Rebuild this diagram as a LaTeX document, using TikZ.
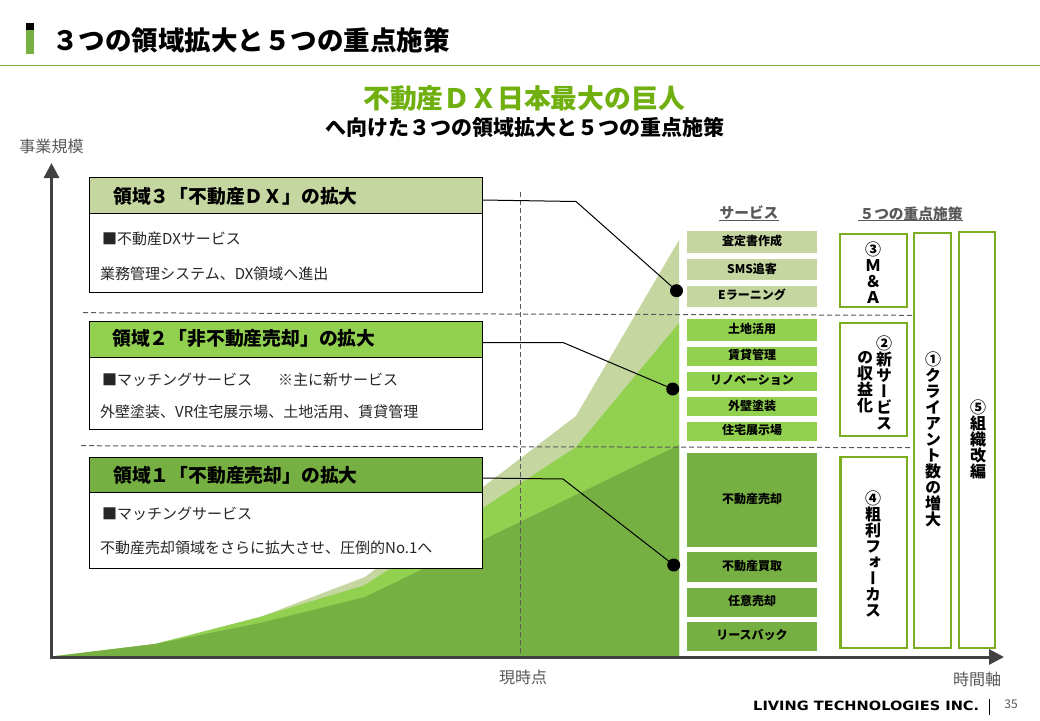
\documentclass[tikz,border=0pt]{standalone}
\usepackage{graphicx}
\usepackage{fontspec}
\setmainfont{Noto Sans CJK JP}
\newfontfamily\vjp[RawFeature=+vert]{Noto Sans CJK JP}
\newfontfamily\logofont{DejaVu Sans}
\usetikzlibrary{arrows.meta}
\definecolor{gLight}{HTML}{C5D6A0}
\definecolor{gMid}{HTML}{92D050}
\definecolor{gDark}{HTML}{76AF42}
\definecolor{gLine}{HTML}{7AAE1E}
\definecolor{gHead}{HTML}{6FAF0E}
\definecolor{gRule}{HTML}{76AF42}
\definecolor{axisc}{HTML}{404040}
\definecolor{graytx}{HTML}{595959}
\definecolor{dashc}{HTML}{595959}
\newcommand{\fsz}[1]{\fontsize{#1}{#1}\selectfont}
\newcommand{\bx}[7]{\pgfmathsetmacro\bw{#4-#2}\pgfmathsetmacro\bh{#5-#3}\node[#6,anchor=north west,minimum width=\bw pt,minimum height=\bh pt,inner sep=0pt,outer sep=0pt] (#1) at (#2,#3) {#7};}
\tikzset{
 x=1pt,y=-1pt,
 svc/.style={font=\fsz{12}\bfseries,text=black,text height=9.5pt,text depth=2.5pt},
 svclight/.style={svc,fill=gLight},
 svcmid/.style={svc,fill=gMid},
 svcdark/.style={svc,fill=gDark},
 panel/.style={draw=black,line width=1pt,fill=white},
 headtx/.style={font=\fsz{18.8}\bfseries,anchor=west,inner sep=0pt,text=black},
 bodytx/.style={font=\fsz{15},anchor=west,inner sep=0pt,text=black!85},
 keybox/.style={draw=gLine,line width=2.2pt,fill=white},
 vtx/.style={font=\fsz{16}\vjp\bfseries,align=center,inner sep=0pt,text=black},
 axisline/.style={draw=axisc,line width=3pt,-{Triangle[length=15pt,width=15pt]}},
 guide/.style={draw=dashc,line width=1pt,dash pattern=on 5pt off 3pt},
 leader/.style={draw=black,line width=1pt},
 pin/.style={circle,fill=black,minimum size=13pt,inner sep=0pt,outer sep=0pt},
 gtx/.style={font=\fsz{16},text=graytx,inner sep=0pt},
 colhead/.style={font=\fsz{14.7}\bfseries,text=graytx,inner sep=0pt},
}
\begin{document}
\begin{tikzpicture}
\useasboundingbox (0,0) rectangle (1040,720);
\fill[white] (0,0) rectangle (1040,720);
% title
\fill[gDark] (26,23) rectangle (34,54);
\fill[black] (26,23) rectangle (34,30);
\node[font=\fsz{26.5}\bfseries,anchor=west,inner sep=0pt] (title) at (52,40) {３つの領域拡大と５つの重点施策};
\draw[gRule,line width=1.2pt] (0,65.5) -- (1040,65.5);
\node[font=\fsz{26.8}\bfseries,text=gHead,inner sep=0pt] (sub1) at (524,98) {不動産ＤＸ日本最大の巨人};
\node[font=\fsz{21}\bfseries,inner sep=0pt] (sub2) at (525,127) {へ向けた３つの領域拡大と５つの重点施策};
% areas
\fill[gLight] (52,656.5) -- (155,644) -- (260,617) -- (365,577) -- (576,416) -- (679,240) -- (679,656.5) -- cycle;
\fill[gMid] (52,656.5) -- (155,644) -- (260,617) -- (365,585) -- (576,447) -- (679,323) -- (679,656.5) -- cycle;
\fill[gDark] (52,656.5) -- (155,644) -- (260,623) -- (365,597) -- (679,445) -- (679,656.5) -- cycle;
% guides
\coordinate (g1a) at (83,312.7); \coordinate (g1b) at (915,315.3);
\coordinate (g2a) at (81,445.7); \coordinate (g2b) at (915,447.7);
\coordinate (g3a) at (520.5,192); \coordinate (g3b) at (520.5,656);
\draw[guide] (g1a) -- (g1b);
\draw[guide] (g2a) -- (g2b);
\draw[guide] (g3a) -- (g3b);
% axes
\coordinate (orig) at (51.5,657);
\coordinate (ytop) at (51.5,163);
\coordinate (xend) at (1004,657);
\draw[axisline] (51.5,658.5) -- (ytop);
\draw[axisline] (50,657) -- (xend);
\node[gtx] (ylab) at (51.5,146) {事業規模};
\node[gtx] (now) at (523,677) {現時点};
\node[gtx] (xlab) at (977,679) {時間軸};
% panels
\bx{p3}{89.5}{177.5}{482.5}{292.5}{panel}{}
\bx{h3}{89.5}{177.5}{482.5}{213.5}{panel,fill=gLight}{}
\node[headtx] (h3t) at (113,196) {領域３「不動産ＤＸ」の拡大};
\node[bodytx] (b3a) at (102,238.5) {■不動産DXサービス};
\node[bodytx] (b3b) at (100,273.5) {業務管理システム、DX領域へ進出};
\bx{p2}{89.5}{321.5}{482.5}{429.5}{panel}{}
\bx{h2}{89.5}{321.5}{482.5}{357.5}{panel,fill=gMid}{}
\node[headtx] (h2t) at (112,338) {領域２「非不動産売却」の拡大};
\node[bodytx] (b2a) at (102,379.5) {■マッチングサービス\hspace{26pt}※主に新サービス};
\node[bodytx] (b2b) at (100,411.5) {外壁塗装、VR住宅展示場、土地活用、賃貸管理};
\bx{p1}{89.5}{457.5}{482.5}{568.5}{panel}{}
\bx{h1}{89.5}{457.5}{482.5}{492.5}{panel,fill=gDark}{}
\node[headtx] (h1t) at (113,475) {領域１「不動産売却」の拡大};
\node[bodytx] (b1a) at (102,513.5) {■マッチングサービス};
\node[bodytx] (b1b) at (100,547.5) {不動産売却領域をさらに拡大させ、圧倒的No.1へ};
% pins & leaders
\node[pin] (d3) at (676.5,290.7) {};
\node[pin] (d2) at (672.7,389) {};
\node[pin] (d1) at (673.7,565) {};
\coordinate (k3) at (576,201.5);
\coordinate (k2) at (563,342.5);
\coordinate (k1) at (563,479);
\draw[leader] (h3.east |- 0,200) -- (k3) -- (d3);
\draw[leader] (h2.east |- 0,342.5) -- (k2) -- (d2);
\draw[leader] (h1.east |- 0,478) -- (k1) -- (d1);
% services
\node[colhead] (svh) at (749,212.5) {サービス};
\draw[graytx,line width=.9pt] (719,220.7) -- (779,220.7);
\node[colhead] (keyh) at (911,213.5) {５つの重点施策};
\draw[graytx,line width=.9pt] (858,220.7) -- (963,220.7);
\bx{s1}{687}{231}{817}{252.7}{svclight}{査定書作成}
\bx{s2}{687}{259}{817}{280}{svclight}{SMS追客}
\bx{s3}{687}{286}{817}{306.7}{svclight}{Eラーニング}
\bx{s4}{687}{319}{817}{340.7}{svcmid}{土地活用}
\bx{s5}{687}{347}{817}{365.7}{svcmid}{賃貸管理}
\bx{s6}{687}{371.7}{817}{391}{svcmid}{リノベーション}
\bx{s7}{687}{397}{817}{416}{svcmid}{外壁塗装}
\bx{s8}{687}{422}{817}{440.7}{svcmid}{住宅展示場}
\bx{s9}{687}{452.7}{817}{546.7}{svcdark}{不動産売却}
\bx{s10}{687}{552}{817}{581.7}{svcdark}{不動産買取}
\bx{s11}{687}{588}{817}{616.7}{svcdark}{任意売却}
\bx{s12}{687}{622}{817}{650.7}{svcdark}{リースバック}
% key boxes
\bx{m3}{840}{233.7}{906.7}{307.3}{keybox}{}
\bx{m2}{840}{322.7}{906.7}{436}{keybox}{}
\bx{m4}{840.5}{456.7}{906.7}{648.3}{keybox}{}
\bx{m1}{913.7}{232.7}{951.3}{648.3}{keybox}{}
\bx{m5}{958.7}{231.7}{995.3}{648.3}{keybox}{}
\node[vtx] (t3) at (873,272.5) {③\\Ｍ\\＆\\Ａ};
\node[vtx] (t2a) at (884,383) {②\\新\\サ\\ー\\ビ\\ス};
\node[vtx] (t2b) at (865,382.5) {の\\収\\益\\化};
\node[vtx] (t4) at (873,553.5) {④\\粗\\利\\フ\\ォ\\ー\\カ\\ス};
\node[vtx] (t1) at (933,439) {①\\ク\\ラ\\イ\\ア\\ン\\ト\\数\\の\\増\\大};
\node[vtx] (t5) at (978,439) {⑤\\組\\織\\改\\編};
% footer
\node[inner sep=0pt,anchor=west] (logo) at (753,706) {\resizebox{226pt}{9.5pt}{\logofont\bfseries LIVING TECHNOLOGIES INC.}};
\coordinate (fa) at (989.5,699); \coordinate (fb) at (989.5,715);
\draw[black,line width=.8pt] (fa) -- (fb);
\node[font=\fsz{12},text=graytx,inner sep=0pt] (pg) at (1011,704) {35};
\end{tikzpicture}
\end{document}
